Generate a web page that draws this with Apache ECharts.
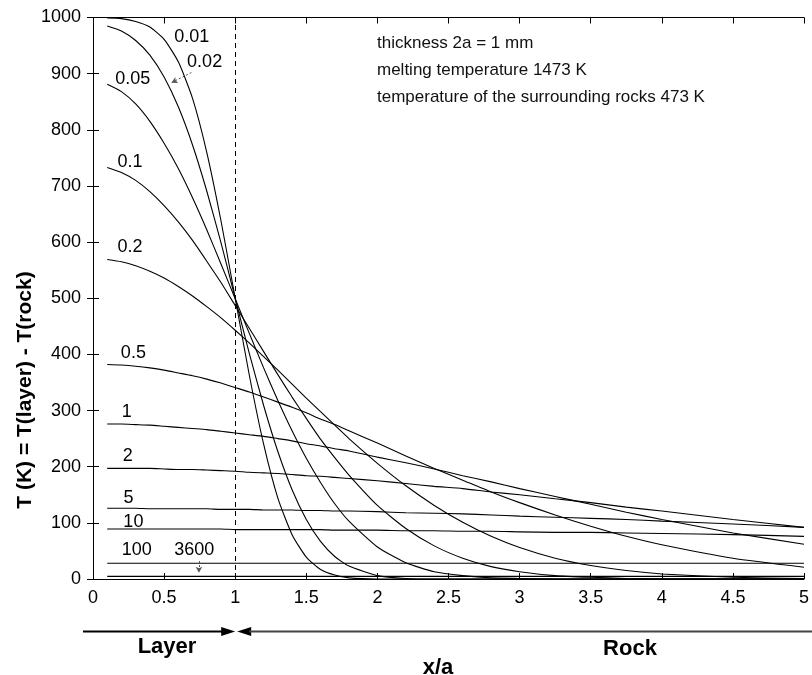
<!DOCTYPE html>
<html><head><meta charset="utf-8">
<script src="https://cdn.jsdelivr.net/npm/echarts@6/dist/echarts.min.js"></script>
<style>html,body{margin:0;padding:0;background:#fff}#c{width:812px;height:675px}</style>
</head><body><div id="c"></div>
<script>
// x/a sample positions
const xRatio = [0.1,0.2,0.3,0.4,0.5,0.6,0.7,0.8,0.9,1.0,1.1,1.2,1.3,1.4,1.5,1.6,1.7,1.8,2.0,2.2,2.4,2.6,2.8,3.0,3.25,3.5,3.75,4.0,4.5,5.0];
// temperature difference (K) for each time
const T_0_01 = [999,998,993,983,961,921,856,760,638,500,362,240,144,79,39,17,7,2,0,0,0,0,0,0,0,0,0,0,0,0];
const T_0_02 = [985,976,959,933,894,841,773,691,599,500,401,309,227,159,106,67,40,23,6,1,0,0,0,0,0,0,0,0,0,0];
const T_0_05 = [881,868,846,815,776,731,679,622,561,499,437,376,318,264,215,172,134,103,57,29,13,6,2,1,0,0,0,0,0,0];
const T_0_1  = [733,724,710,690,665,636,603,566,528,487,446,405,364,324,286,249,216,185,131,90,59,37,22,13,6,3,1,0,0,0];
const T_0_2  = [569,565,558,548,536,521,504,485,465,443,420,396,372,347,322,298,274,250,206,166,131,101,76,56,37,24,15,9,3,1];
const T_0_5  = [382,381,379,376,372,367,362,356,349,341,333,324,315,306,296,285,275,264,242,219,197,176,155,136,114,94,76,61,37,21];
const T_1    = [276,276,275,274,272,270,268,266,263,260,257,254,250,246,241,237,232,228,217,207,196,184,173,161,147,133,119,106,82,62];
const T_2    = [197,197,197,197,196,195,195,194,193,192,190,189,188,186,184,183,181,179,175,170,165,161,155,150,143,136,128,121,106,92];
const T_5    = [126,126,126,125,125,125,125,125,124,124,124,123,123,123,122,122,121,121,120,118,117,116,114,112,110,108,106,103,98,92];
const T_10   = [89,89,89,89,89,89,89,89,89,88,88,88,88,88,88,88,87,87,87,86,86,85,85,84,83,83,82,81,79,76];
const T_100  = [28,28,28,28,28,28,28,28,28,28,28,28,28,28,28,28,28,28,28,28,28,28,28,28,28,28,28,28,28,28];
const T_3600 = [4.7,4.7,4.7,4.7,4.7,4.7,4.7,4.7,4.7,4.7,4.7,4.7,4.7,4.7,4.7,4.7,4.7,4.7,4.7,4.7,4.7,4.7,4.7,4.7,4.7,4.7,4.7,4.7,4.7,4.7];

const curveNames = ['0.01','0.02','0.05','0.1','0.2','0.5','1','2','5','10','100','3600'];
const curveValues = [T_0_01,T_0_02,T_0_05,T_0_1,T_0_2,T_0_5,T_1,T_2,T_5,T_10,T_100,T_3600];

// curve label anchors (data coordinates)
const labelX = [0.695,0.785,0.28,0.26,0.26,0.284,0.238,0.245,0.25,0.284,0.307,0.712];
const labelY = [965,921,890,742,592,402,298,219,145,101,51,51];

// leader arrows [x0,y0,x1,y1]
const leader002 = [0.692,902,0.552,884];
const leader3600 = [0.745,32,0.745,11];

const xMin = 0, xMax = 5, xStep = 0.5;
const yMin = 0, yMax = 1000, yStep = 100;
const layerBoundary = 1;

const infoLines = ['thickness 2a = 1 mm','melting temperature 1473 K','temperature of the surrounding rocks 473 K'];

const chart = echarts.init(document.getElementById('c'));
const FONT = '"Liberation Sans", Arial, Helvetica, sans-serif';
const axisCommon = {
  type:'value', min:xMin, max:xMax, interval:xStep,
  axisLine:{show:true,onZero:false,lineStyle:{color:'#000',width:1}},
  axisTick:{show:true,inside:true,length:6,lineStyle:{color:'#000'}},
  splitLine:{show:false}
};
const series = curveNames.map((n,i)=>({
  name:n, type:'line', showSymbol:false, smooth:0.2,
  lineStyle:{color:'#000',width:1.1}, silent:true, z:3,
  data: xRatio.map((x,j)=>[x,curveValues[i][j]])
}));
series.push({
  type:'scatter', symbolSize:0, silent:true, z:5,
  itemStyle:{opacity:1},
  data: curveNames.map((n,i)=>[labelX[i],labelY[i],n]),
  label:{show:true,position:'inside',formatter:p=>p.data[2],fontSize:18,fontFamily:FONT,color:'#000',opacity:1,textBorderWidth:0},
  markLine:{
    silent:true, symbol:['none','arrow'], symbolSize:[5,6],
    lineStyle:{color:'#555',type:[2,2],width:1,opacity:1}, label:{show:false},
    data:[
      [{coord:[leader002[0],leader002[1]]},{coord:[leader002[2],leader002[3]]}],
      [{coord:[leader3600[0],leader3600[1]]},{coord:[leader3600[2],leader3600[3]]}]
    ]
  }
});
series.push({
  type:'line', data:[], silent:true,
  markLine:{silent:true,symbol:['none','none'],label:{show:false},
    lineStyle:{color:'#000',type:[5,4],width:1,opacity:1},
    data:[{xAxis:layerBoundary}]}
});

const option = {
  animation:false,
  backgroundColor:'#fff',
  grid:{left:93,right:5,top:17.5,bottom:96,containLabel:false},
  xAxis:[
    Object.assign({},axisCommon,{position:'bottom',
      axisLabel:{show:true,fontSize:18,fontFamily:FONT,color:'#000',margin:10,showMinLabel:true,showMaxLabel:true,formatter:v=>String(v)}}),
    Object.assign({},axisCommon,{position:'top',axisLabel:{show:false}})
  ],
  yAxis:[
    {type:'value',min:yMin,max:yMax,interval:yStep,position:'left',
     axisLine:{show:true,lineStyle:{color:'#000'}},
     axisTick:{show:true,inside:true,length:6,lineStyle:{color:'#000'}},
     axisLabel:{fontSize:18,fontFamily:FONT,color:'#000',margin:12,formatter:v=>String(v)},
     splitLine:{show:false}},
    {type:'value',min:yMin,max:yMax,interval:yStep,position:'right',
     axisLine:{show:true,lineStyle:{color:'#000'}},
     axisTick:{show:true,inside:true,length:6,lineStyle:{color:'#000'}},
     axisLabel:{show:false},splitLine:{show:false}}
  ],
  series:series
};
chart.setOption(option);

const pB = chart.convertToPixel({gridIndex:0},[layerBoundary,0]);
const bx = pB[0];
const ay = 631.5;
const graphics = [
  {type:'text',x:25,y:390,rotation:Math.PI/2,
   style:{text:'T (K) = T(layer) - T(rock)',font:'bold 21px '+FONT,fill:'#000',textAlign:'center',textVerticalAlign:'middle'}},
  {type:'line',shape:{x1:83,y1:ay,x2:bx-12,y2:ay},style:{stroke:'#000',lineWidth:2}},
  {type:'polygon',shape:{points:[[bx-14,ay-4.5],[bx,ay],[bx-14,ay+4.5]]},style:{fill:'#000'}},
  {type:'polygon',shape:{points:[[bx+2,ay],[bx+16,ay-4.5],[bx+16,ay+4.5]]},style:{fill:'#000'}},
  {type:'line',shape:{x1:bx+14,y1:ay,x2:812,y2:ay},style:{stroke:'#444',lineWidth:2}},
  {type:'text',x:167,y:647,style:{text:'Layer',font:'bold 22px '+FONT,fill:'#000',textAlign:'center',textVerticalAlign:'middle'}},
  {type:'text',x:630,y:649,style:{text:'Rock',font:'bold 22px '+FONT,fill:'#000',textAlign:'center',textVerticalAlign:'middle'}},
  {type:'text',x:438,y:668,style:{text:'x/a',font:'bold 22px '+FONT,fill:'#000',textAlign:'center',textVerticalAlign:'middle'}}
];
infoLines.forEach((t,i)=>{
  graphics.push({type:'text',x:377,y:43+i*27,style:{text:t,font:'17px '+FONT,fill:'#111',textAlign:'left',textVerticalAlign:'middle'}});
});
chart.setOption({graphic:graphics});
</script>
</body></html>
